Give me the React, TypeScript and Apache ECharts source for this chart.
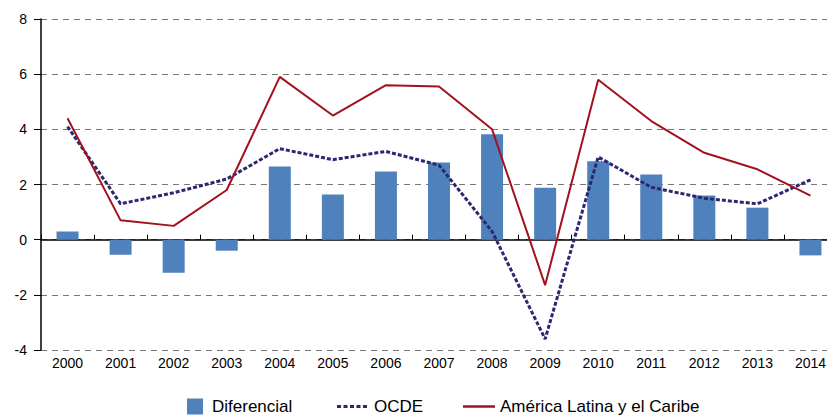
import React, { useEffect, useRef } from "react";
import * as echarts from "echarts";

const years = ["2000","2001","2002","2003","2004","2005","2006","2007","2008","2009","2010","2011","2012","2013","2014"];
const diferencial = [0.3, -0.55, -1.2, -0.4, 2.65, 1.64, 2.47, 2.8, 3.82, 1.88, 2.84, 2.36, 1.6, 1.16, -0.57];
const ocde = [4.1, 1.3, 1.7, 2.2, 3.3, 2.9, 3.2, 2.7, 0.3, -3.6, 3.0, 1.9, 1.5, 1.3, 2.17];
const alc = [4.4, 0.7, 0.5, 1.8, 5.9, 4.5, 5.6, 5.55, 4.0, -1.65, 5.8, 4.3, 3.15, 2.55, 1.6];

const FONT = "'Liberation Sans', Arial, sans-serif";
const OCDE_COLOR = "#2A2870";
const ALC_COLOR = "#A3111F";
const BAR_COLOR = "#4F81BD";

export default function App() {
  const ref = useRef<HTMLDivElement>(null);
  useEffect(() => {
    if (!ref.current) return;
    const chart = echarts.init(ref.current, undefined, { renderer: "svg" });
    const legendText = { color: "#000", fontSize: 17, fontFamily: FONT };
    chart.setOption({
      animation: false,
      backgroundColor: "#fff",
      grid: { left: 41, top: 19, width: 796, height: 331, outerBoundsMode: "none", containLabel: false },
      legend: [
        {
          data: [{ name: "Diferencial", icon: "rect" }],
          left: 182, top: 393, itemWidth: 16, itemHeight: 16,
          textStyle: { ...legendText, padding: [0, 0, 0, 4] },
        },
        {
          data: [{ name: "OCDE", icon: "path://M0,0h4v3h-4z M6.5,0h4v3h-4z M13,0h4v3h-4z M19.5,0h4v3h-4z M26,0h4v3h-4z" }],
          left: 332, top: 393, itemWidth: 30, itemHeight: 3,
          itemStyle: { color: OCDE_COLOR },
          textStyle: { ...legendText, padding: [0, 0, 0, 2] },
        },
        {
          data: [{ name: "América Latina y el Caribe", icon: "rect" }],
          left: 458, top: 393, itemWidth: 32, itemHeight: 2.5,
          itemStyle: { color: ALC_COLOR },
          textStyle: legendText,
        },
      ],
      xAxis: [
        {
          type: "category",
          data: years,
          axisLine: { onZero: true, lineStyle: { color: "#000", width: 1.5 } },
          axisTick: { show: true, inside: true, length: 5, lineStyle: { color: "#000" } },
          axisLabel: { show: false },
          splitLine: { show: false },
        },
        {
          type: "category",
          data: years,
          position: "bottom",
          axisLine: { show: false, onZero: false },
          axisTick: { show: false },
          axisLabel: { show: true, color: "#000", fontSize: 14, fontFamily: FONT, margin: 6 },
        },
      ],
      yAxis: {
        type: "value",
        min: -4,
        max: 8,
        interval: 2,
        axisLine: { show: true, lineStyle: { color: "#000", width: 1.5 } },
        axisTick: { show: true, length: 7, lineStyle: { color: "#000" } },
        axisLabel: { color: "#000", fontSize: 14, fontFamily: FONT, margin: 14 },
        splitLine: { show: true, lineStyle: { color: "#777", type: [6, 5], width: 1 } },
      },
      series: [
        {
          name: "Diferencial",
          type: "bar",
          xAxisIndex: 0,
          data: diferencial,
          barWidth: 22,
          itemStyle: { color: BAR_COLOR },
        },
        {
          name: "OCDE",
          type: "line",
          xAxisIndex: 0,
          data: ocde,
          symbol: "none",
          lineStyle: { color: OCDE_COLOR, width: 3, type: [4, 2] },
          itemStyle: { color: OCDE_COLOR },
        },
        {
          name: "América Latina y el Caribe",
          type: "line",
          xAxisIndex: 0,
          data: alc,
          symbol: "none",
          lineStyle: { color: ALC_COLOR, width: 2 },
          itemStyle: { color: ALC_COLOR },
        },
      ],
    });
    return () => chart.dispose();
  }, []);
  return <div ref={ref} style={{ width: 827, height: 417, position: "absolute", left: 0, top: 0 }} />;
}
